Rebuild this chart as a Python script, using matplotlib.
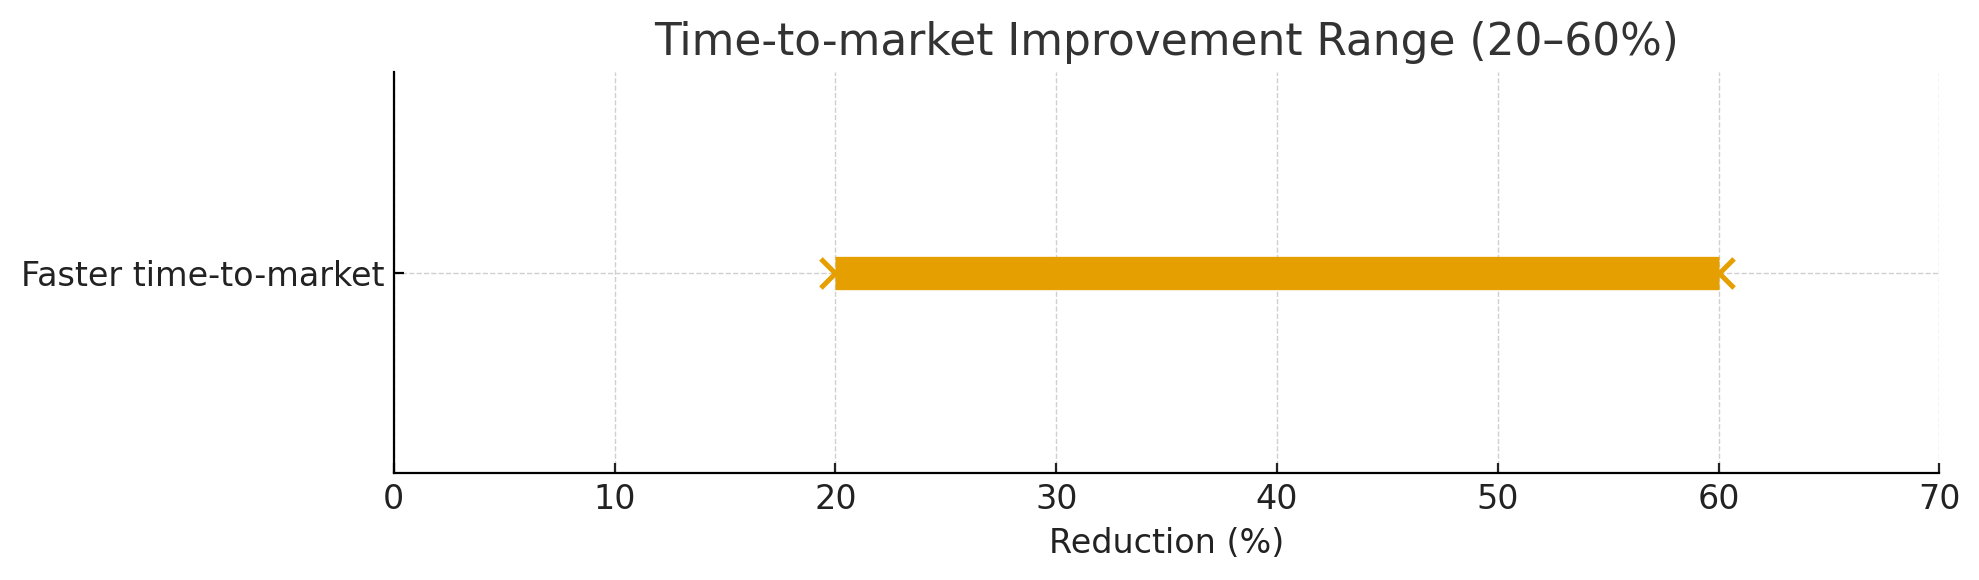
import matplotlib
matplotlib.use("Agg")
import matplotlib.pyplot as plt

categories = ["Faster time-to-market"]
low_values = [20]
high_values = [60]
xticks = [0, 10, 20, 30, 40, 50, 60, 70]
color = "#E69F00"

fig, ax = plt.subplots(figsize=(9.895, 2.9), dpi=200)
ypos = list(range(len(categories)))

ax.scatter(low_values, ypos, marker="x", s=110, color=color, linewidths=1.8, zorder=2)
ax.scatter(high_values, ypos, marker="x", s=110, color=color, linewidths=1.8, zorder=2)
ax.hlines(ypos, low_values, high_values, color=color, linewidth=12, zorder=3)

ax.set_yticks(ypos)
ax.set_yticklabels(categories, fontsize=12, color="#222222")
ax.set_ylim(-1, 1)
ax.set_xlim(0, 70)
ax.set_xticks(xticks)
ax.tick_params(axis="x", labelsize=12, colors="#222222", direction="in")
ax.tick_params(axis="y", direction="in")
ax.set_xlabel("Reduction (%)", fontsize=12, color="#222222")
ax.set_title("Time-to-market Improvement Range (20–60%)", fontsize=15.8, color="#333333")
ax.grid(True, linestyle="--", linewidth=0.5, color="#d0d0d0")
ax.set_axisbelow(True)
for s in ["top", "right"]:
    ax.spines[s].set_visible(False)

fig.subplots_adjust(left=0.199, right=0.98, top=0.876, bottom=0.184)
fig.savefig("out.png", dpi=200)
